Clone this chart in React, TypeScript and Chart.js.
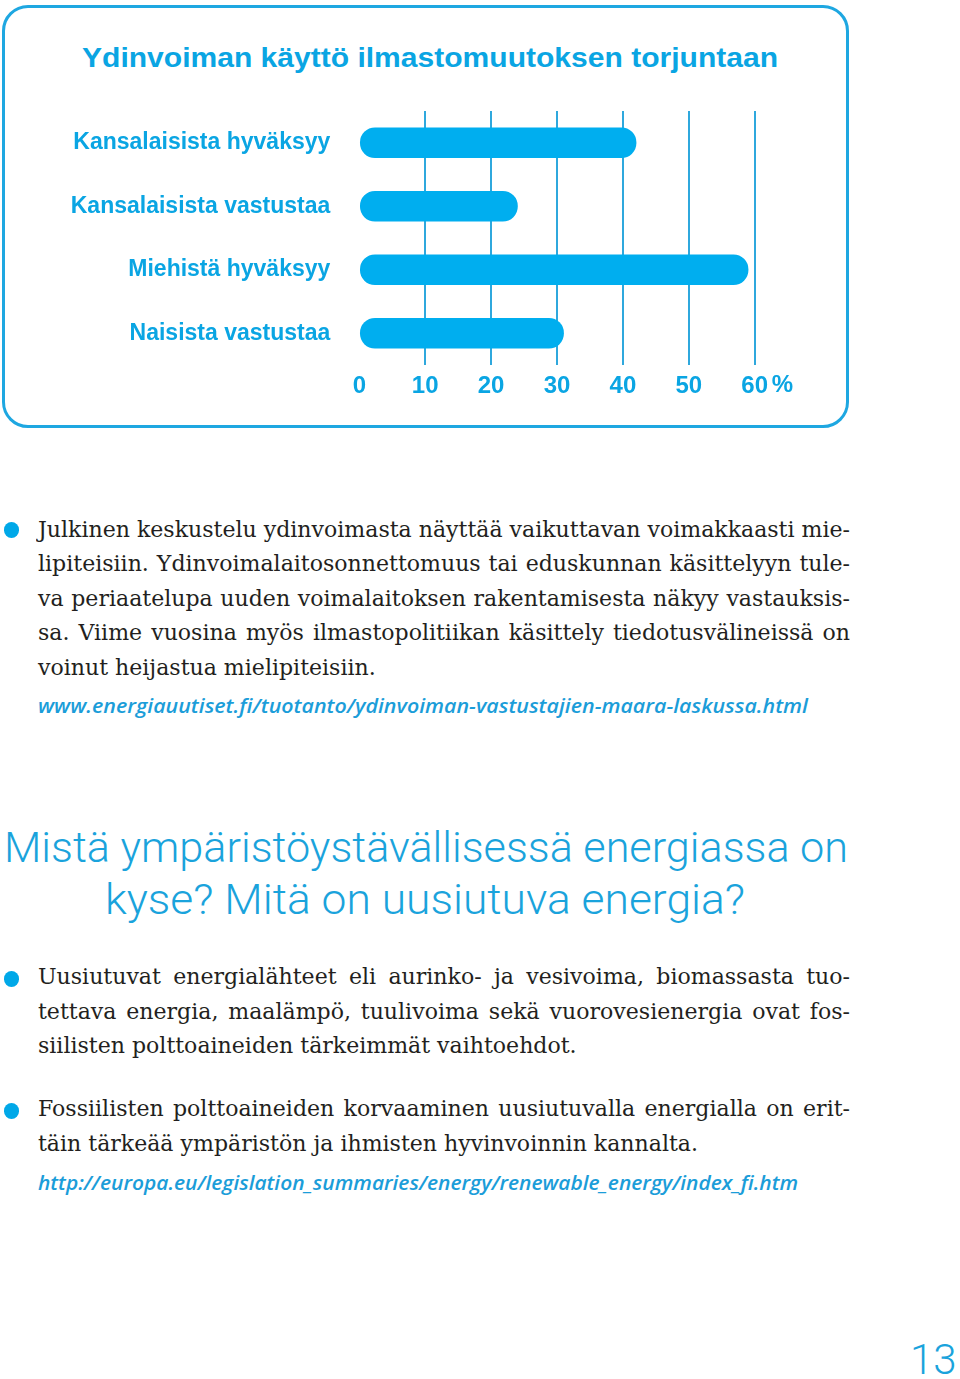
import React, { useEffect, useRef } from "react";
import { Chart, registerables } from "chart.js";

Chart.register(...registerables);

// ---- Chart data ----
const categories = [
  "Kansalaisista hyväksyy",
  "Kansalaisista vastustaa",
  "Miehistä hyväksyy",
  "Naisista vastustaa",
];
const values = [42, 24, 59, 31];
const xTickValues = [0, 10, 20, 30, 40, 50, 60];
const unitLabel = "%";
const chartTitle = "Ydinvoiman käyttö ilmastomuutoksen torjuntaan";

// ---- Page text ----
const para1 = [
  "Julkinen keskustelu ydinvoimasta näyttää vaikuttavan voimakkaasti mie-",
  "lipiteisiin. Ydinvoimalaitosonnettomuus tai eduskunnan käsittelyyn tule-",
  "va periaatelupa uuden voimalaitoksen rakentamisesta näkyy vastauksis-",
  "sa. Viime vuosina myös ilmastopolitiikan käsittely tiedotusvälineissä on",
  "voinut heijastua mielipiteisiin.",
];
const link1 = "www.energiauutiset.fi/tuotanto/ydinvoiman-vastustajien-maara-laskussa.html";
const headingLines = ["Mistä ympäristöystävällisessä energiassa on", "kyse? Mitä on uusiutuva energia?"];
const para2 = [
  "Uusiutuvat energialähteet eli aurinko- ja vesivoima, biomassasta tuo-",
  "tettava energia, maalämpö, tuulivoima sekä vuorovesienergia ovat fos-",
  "siilisten polttoaineiden tärkeimmät vaihtoehdot.",
];
const para3 = [
  "Fossiilisten polttoaineiden korvaaminen uusiutuvalla energialla on erit-",
  "täin tärkeää ympäristön ja ihmisten hyvinvoinnin kannalta.",
];
const link2 = "http://europa.eu/legislation_summaries/energy/renewable_energy/index_fi.htm";
const pageNumber = "13";

const BLUE = "#0aa5e3";
const BAR = "#00aeef";
const GRID = "#2fa8dd";
const SANS = "'Liberation Sans', Arial, sans-serif";

let _ctx: CanvasRenderingContext2D | null = null;
function ctx2d() {
  if (!_ctx) _ctx = document.createElement("canvas").getContext("2d");
  return _ctx!;
}
function measure(text: string, font: string) {
  const c = ctx2d();
  c.font = font;
  return c.measureText(text).width;
}
function fontMetrics(font: string) {
  const c = ctx2d();
  c.font = font;
  const m = c.measureText("Hg");
  return { asc: m.fontBoundingBoxAscent, desc: m.fontBoundingBoxDescent };
}

type LineProps = {
  text: string;
  font: string;
  x: number;
  baseline: number;
  color: string;
  scale?: number;
  wordSpacing?: number;
};
function TextLine({ text, font, x, baseline, color, scale = 1, wordSpacing = 0 }: LineProps) {
  const LH = 40;
  const { asc, desc } = fontMetrics(font);
  const off = (LH - (asc + desc)) / 2 + asc;
  return (
    <div
      style={{
        position: "absolute",
        left: x,
        top: baseline - off,
        height: LH,
        lineHeight: LH + "px",
        whiteSpace: "pre",
        font,
        color,
        transform: `scaleX(${scale})`,
        transformOrigin: "0 0",
        wordSpacing: wordSpacing + "px",
      }}
    >
      {text}
    </div>
  );
}

const BODY_FONT = `23px "DejaVu Serif"`;
const BODY_LEFT = 38;
const BODY_WIDTH = 812;
const BODY_COLOR = "#231f20";
const LINK_FONT = `italic 600 20px "Open Sans"`;
const LINK_COLOR = "#1b9dd9";
const HEAD_FONT = `300 42px Roboto`;

function bodyScale() {
  const full = [para1.slice(0, 4), para2.slice(0, 2), para3.slice(0, 1)].flat();
  let s = 1;
  for (const t of full) s = Math.min(s, BODY_WIDTH / measure(t, BODY_FONT));
  return s;
}

function Paragraph({ lines, baselines, scale }: { lines: string[]; baselines: number[]; scale: number }) {
  return (
    <>
      {lines.map((t, i) => {
        const last = i === lines.length - 1;
        const nat = measure(t, BODY_FONT);
        const spaces = (t.match(/ /g) || []).length;
        const ws = !last && spaces > 0 ? (BODY_WIDTH / scale - nat) / spaces : 0;
        return (
          <TextLine key={i} text={t} font={BODY_FONT} x={BODY_LEFT} baseline={baselines[i]} color={BODY_COLOR} scale={scale} wordSpacing={ws} />
        );
      })}
    </>
  );
}

function Bullet({ y }: { y: number }) {
  return (
    <div
      style={{
        position: "absolute",
        left: 11.5 - 7.8,
        top: y - 7.8,
        width: 15.6,
        height: 15.6,
        borderRadius: "50%",
        background: "#00a8e8",
      }}
    />
  );
}

function FitLine({ text, font, x, width, baseline, color }: { text: string; font: string; x: number; width: number; baseline: number; color: string }) {
  const s = width / measure(text, font);
  return <TextLine text={text} font={font} x={x} baseline={baseline} color={color} scale={s} />;
}

function BarChart() {
  const ref = useRef<HTMLCanvasElement>(null);
  useEffect(() => {
    if (!ref.current) return;
    const unitPlugin = {
      id: "unitLabel",
      afterDraw(chart: any) {
        const xs = chart.scales.x;
        const c = chart.ctx;
        c.save();
        c.font = `bold 24px ${SANS}`;
        c.fillStyle = BLUE;
        c.textAlign = "left";
        c.textBaseline = "top";
        c.fillText(unitLabel, xs.getPixelForValue(xTickValues[xTickValues.length - 1]) + 17, xs.top + 8);
        c.restore();
      },
    };
    const chart = new Chart(ref.current, {
      type: "bar",
      data: {
        labels: categories,
        datasets: [
          {
            data: values,
            backgroundColor: BAR,
            barThickness: 30,
            borderRadius: 15,
            borderSkipped: false,
          },
        ],
      },
      options: {
        indexAxis: "y",
        responsive: false,
        animation: false,
        layout: { padding: { top: 111, right: 860 - 754.7, bottom: 15, left: 0 } },
        plugins: { legend: { display: false }, tooltip: { enabled: false }, title: { display: false } },
        scales: {
          x: {
            min: xTickValues[0],
            max: xTickValues[xTickValues.length - 1],
            afterBuildTicks: (scale: any) => {
              scale.ticks = xTickValues.map((v) => ({ value: v }));
            },
            afterFit: (scale: any) => {
              scale.height = 40;
            },
            border: { display: false },
            grid: {
              drawTicks: false,
              lineWidth: 2,
              color: (c: any) => (c.tick && c.tick.value === 0 ? "rgba(0,0,0,0)" : GRID),
            },
            ticks: {
              padding: 7,
              color: BLUE,
              font: { family: SANS, size: 24, weight: "bold" },
            },
          },
          y: {
            afterFit: (scale: any) => {
              scale.width = 359.3;
            },
            border: { display: false },
            grid: { display: false, drawTicks: false },
            ticks: {
              padding: 29,
              color: BLUE,
              font: { family: SANS, size: 23, weight: "bold" },
            },
          },
        },
      },
      plugins: [unitPlugin],
    } as any);
    return () => chart.destroy();
  }, []);
  return (
    <canvas
      ref={ref}
      width={860}
      height={420}
      style={{ position: "absolute", left: 0, top: 0, width: 860, height: 420 }}
    />
  );
}

export default function App() {
  const s = bodyScale();
  const TITLE_FONT = `bold 27px ${SANS}`;
  const hs1 = 844 / measure(headingLines[0], HEAD_FONT);
  const hs2 = 640 / measure(headingLines[1], HEAD_FONT);
  return (
    <div style={{ position: "absolute", left: 0, top: 0, width: 960, height: 1379, background: "#fff", overflow: "hidden" }}>
      <div
        style={{
          position: "absolute",
          left: 2,
          top: 5,
          width: 847,
          height: 423,
          border: "3px solid #1ea7e1",
          borderRadius: 26,
          boxSizing: "border-box",
        }}
      />
      <FitLine text={chartTitle} font={TITLE_FONT} x={82} width={696} baseline={72} color={BLUE} />
      <BarChart />

      <Bullet y={530} />
      <Paragraph lines={para1} baselines={[543.5, 578, 612.5, 647, 681.5]} scale={s} />
      <FitLine text={link1} font={LINK_FONT} x={38} width={770} baseline={719} color={LINK_COLOR} />

      <TextLine text={headingLines[0]} font={HEAD_FONT} x={4} baseline={857} color="#1aa3dc" scale={hs1} />
      <TextLine text={headingLines[1]} font={HEAD_FONT} x={105} baseline={909} color="#1aa3dc" scale={hs2} />

      <Bullet y={979} />
      <Paragraph lines={para2} baselines={[991, 1025.5, 1060]} scale={s} />
      <Bullet y={1111} />
      <Paragraph lines={para3} baselines={[1123, 1157.5]} scale={s} />
      <FitLine text={link2} font={LINK_FONT} x={38} width={760} baseline={1196} color={LINK_COLOR} />

      <TextLine text={pageNumber} font={`300 42px Roboto`} x={910} baseline={1369} color="#1aa3dc" />
    </div>
  );
}
